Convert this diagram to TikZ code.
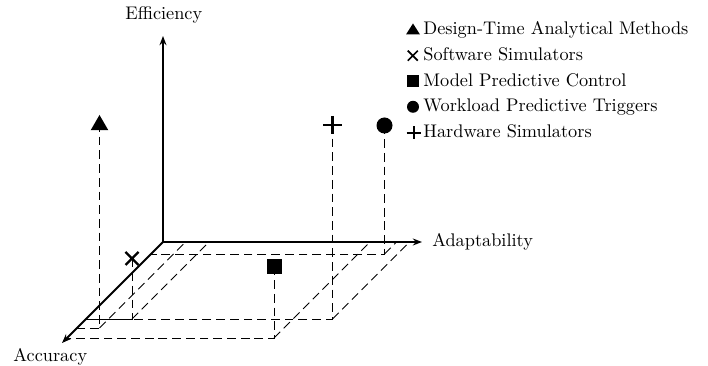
\documentclass[tikz,border=0pt]{standalone}
\usetikzlibrary{arrows.meta}

\tikzset{
  axisline/.style={line width=1pt,line join=miter},
  tipboth/.style={{Stealth[length=5pt,width=3.8pt]}-{Stealth[length=5pt,width=3.8pt]}},
  tipend/.style={-{Stealth[length=5pt,width=3.8pt]}},
  guide/.style={line width=0.5pt,dash pattern=on 4.8pt off 2.7pt},
  lbl/.style={inner sep=0pt,font=\normalsize},
  % plot markers (pixel units, y pointing down)
  bigtri/.pic={\fill (-8.8,7.2) -- (8.8,7.2) -- (0,-8) -- cycle;},
  bigsq/.pic={\fill (-7.5,-7.5) rectangle (7.5,7.5);},
  bigdot/.pic={\fill (0,0) circle (8);},
  bigplus/.pic={\draw[line width=1.25pt] (-9.5,0) -- (9.5,0) (0,-9) -- (0,9);},
  bigcross/.pic={\draw[line width=1.25pt] (-6.5,-6.5) -- (6.5,6.5) (-6.5,6.5) -- (6.5,-6.5);},
  % legend symbols
  smalltri/.pic={\fill (-7,5) -- (7,5) -- (0,-6) -- cycle;},
  smallsq/.pic={\fill (-5.8,-5.8) rectangle (5.8,5.8);},
  smalldot/.pic={\fill (0,0) circle (6);},
  smallplus/.pic={\draw[line width=0.9pt] (-7,0) -- (7,0) (0,-6.5) -- (0,6.5);},
  smallcross/.pic={\draw[line width=0.9pt] (-5,-5) -- (5,5) (-5,5) -- (5,-5);},
}

\begin{document}
\begin{tikzpicture}[x=0.547pt,y=-0.547pt]
\useasboundingbox (0,0) rectangle (708,366);
\coordinate (O) at (163,242);

% 3D frame: x = Accuracy (towards the viewer), y = Adaptability, z = Efficiency
\begin{scope}[shift={(O)},x={(-0.547pt,-0.547pt)},y={(0.547pt,0pt)},z={(0pt,0.547pt)}]
  \coordinate (AccTip) at (101,0,0);
  \coordinate (AdpTip) at (0,259,0);
  \coordinate (EffTip) at (0,0,206);

  % Design-Time Analytical Methods
  \coordinate (T)  at (86,22.5,205);
  \coordinate (Tf) at (86,22.5,0);
  \coordinate (Ta) at (86,0,0);
  \coordinate (Tb) at (0,22.5,0);
  % Software Simulators
  \coordinate (X)  at (77,46,60.5);
  \coordinate (Xf) at (77,46,0);
  \coordinate (Xa) at (77,0,0);
  \coordinate (Xb) at (0,46,0);
  % Model Predictive Control
  \coordinate (S)  at (96,207,71.5);
  \coordinate (Sf) at (96,207,0);
  \coordinate (Sa) at (96,0,0);
  \coordinate (Sb) at (0,207,0);
  % Hardware Simulators
  \coordinate (P)  at (77,246.5,194);
  \coordinate (Pf) at (77,246.5,0);
  \coordinate (Pa) at (77,0,0);
  \coordinate (Pb) at (0,246.5,0);
  % Workload Predictive Triggers
  \coordinate (C)  at (12,233.5,128.5);
  \coordinate (Cf) at (12,233.5,0);
  \coordinate (Ca) at (12,0,0);
  \coordinate (Cb) at (0,233.5,0);
\end{scope}

% projection guides
\foreach \p in {T,X,S,P,C}{
  \draw[guide] (\p) -- (\p f) -- (\p a);
  \draw[guide] (\p f) -- (\p b);
}

% axes
\draw[axisline,tipboth] (EffTip) -- (O) -- (AdpTip);
\draw[axisline,tipend] (O) -- (AccTip);

\node[lbl,anchor=base] (eff) at (163.8,19.3) {Efficiency};
\node[lbl,anchor=base west] (adp) at (432,246.5) {Adaptability};
\node[lbl,anchor=base] (acc) at (50.3,362) {Accuracy};

% markers
\pic at (T) {bigtri};
\pic at (X) {bigcross};
\pic at (S) {bigsq};
\pic at (P) {bigplus};
\pic at (C) {bigdot};

% legend
\pic at (413,29.5) {smalltri};
\pic at (412.8,55.7) {smallcross};
\pic at (413,80.8) {smallsq};
\pic at (413,106.8) {smalldot};
\pic at (413.7,132.8) {smallplus};
\node[lbl,anchor=base west] (l1) at (423,35) {Design-Time Analytical Methods};
\node[lbl,anchor=base west] (l2) at (423,60.6) {Software Simulators};
\node[lbl,anchor=base west] (l3) at (423,86.2) {Model Predictive Control};
\node[lbl,anchor=base west] (l4) at (423,111.8) {Workload Predictive Triggers};
\node[lbl,anchor=base west] (l5) at (423,137.4) {Hardware Simulators};
\end{tikzpicture}
\end{document}
